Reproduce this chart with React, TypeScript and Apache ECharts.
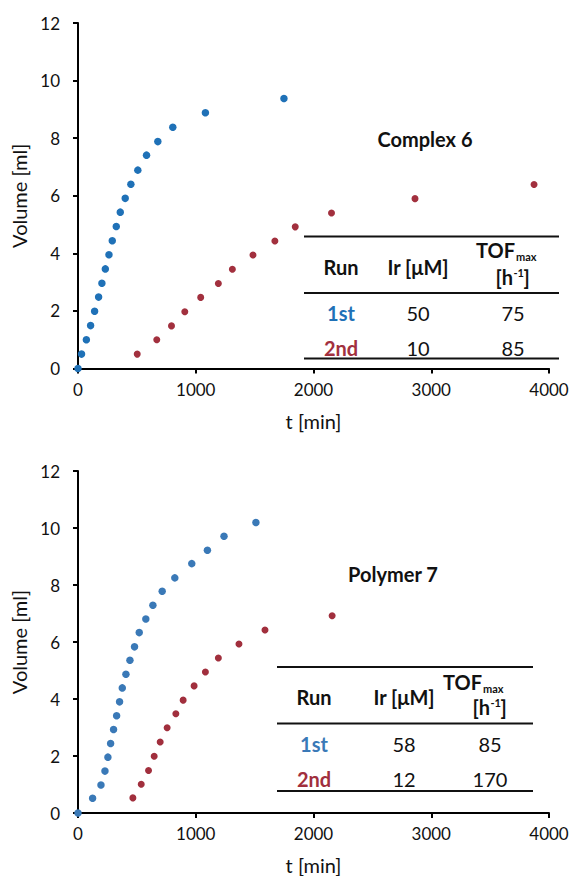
import React, { useEffect, useRef } from "react";
import * as echarts from "echarts";

// ---- Data ----
const complexRun1T = [0, 30, 71, 107, 141, 175, 203, 232, 263, 291, 325, 359, 401, 449, 508, 582, 678, 805, 1082, 1749];
const complexRun1V = [0, 0.5, 1.0, 1.49, 1.99, 2.48, 2.96, 3.46, 3.95, 4.44, 4.93, 5.43, 5.91, 6.4, 6.89, 7.41, 7.88, 8.38, 8.88, 9.375];
const complexRun2T = [503, 669, 794, 907, 1042, 1192, 1311, 1486, 1672, 1845, 2153, 2862, 3873];
const complexRun2V = [0.5, 1.0, 1.48, 1.97, 2.47, 2.95, 3.45, 3.94, 4.43, 4.92, 5.4, 5.9, 6.39];

const polymerRun1T = [0, 124, 195, 229, 254, 277, 302, 328, 353, 376, 407, 441, 480, 520, 576, 636, 715, 822, 966, 1099, 1240, 1511];
const polymerRun1V = [0, 0.52, 0.98, 1.47, 1.96, 2.44, 2.93, 3.41, 3.9, 4.39, 4.87, 5.36, 5.83, 6.33, 6.81, 7.29, 7.78, 8.25, 8.75, 9.22, 9.71, 10.19];
const polymerRun2T = [466, 537, 599, 647, 698, 757, 831, 893, 986, 1082, 1192, 1367, 1588, 2158];
const polymerRun2V = [0.53, 1.01, 1.49, 1.99, 2.49, 2.99, 3.48, 3.96, 4.46, 4.95, 5.44, 5.93, 6.42, 6.92];

const chartTitles = ["Complex 6", "Polymer 7"];
const tableHeaders = ["Run", "Ir [μM]"];
const complexTable = [
  ["1st", "50", "75"],
  ["2nd", "10", "85"],
];
const polymerTable = [
  ["1st", "58", "85"],
  ["2nd", "12", "170"],
];
const xAxisName = "t [min]";
const yAxisName = "Volume [ml]";

// ---- Styles ----
const FONT = "Lato";
const BLUE1 = "#1f71b7";
const RED1 = "#a2303e";
const BLUE2 = "#3a79b7";
const RED2 = "#a12f3d";
const INK = "#111";

const zip = (t: number[], v: number[]) => t.map((x, i) => [x, v[i]]);

type TableLayout = {
  x0: number;
  x1: number;
  lines: number[];
  cols: number[];
  tofSplit: number; // x where "TOF" ends and "max" starts
  hSplit: number; // x where "[h" ends and "-1" starts
  headerY: number;
  tofY: number;
  hY: number;
  rowY: number[];
};

function txt(x: number, y: number, text: string, opts: any = {}) {
  return {
    type: "text",
    x,
    y,
    style: {
      text,
      fontFamily: FONT,
      fontSize: 20,
      fontWeight: "normal",
      fill: INK,
      align: "center",
      verticalAlign: "middle",
      ...opts,
    },
  };
}

function tableGraphics(L: TableLayout, rows: string[][], colors: string[]) {
  const els: any[] = [];
  L.lines.forEach((y) => {
    els.push({
      type: "line",
      shape: { x1: L.x0, y1: y, x2: L.x1, y2: y },
      style: { stroke: INK, lineWidth: 2 },
    });
  });
  tableHeaders.forEach((h, i) => {
    els.push(txt(L.cols[i], L.headerY, h, { fontWeight: "bold" }));
  });
  // TOF with subscript "max"
  els.push(txt(L.tofSplit, L.tofY, "TOF", { fontWeight: "bold", align: "right" }));
  els.push(txt(L.tofSplit + 1, L.tofY + 6, "max", { fontWeight: "bold", fontSize: 11, align: "left" }));
  // [h^-1]
  els.push(txt(L.hSplit, L.hY, "[h", { fontWeight: "bold", align: "right" }));
  els.push(txt(L.hSplit + 0.5, L.hY - 5, "-1", { fontWeight: "bold", fontSize: 11, align: "left" }));
  els.push(txt(L.hSplit + 10.5, L.hY, "]", { fontWeight: "bold", align: "left" }));
  rows.forEach((row, r) => {
    row.forEach((cell, c) => {
      els.push(
        txt(L.cols[c], L.rowY[r], cell, {
          fontWeight: c === 0 ? "bold" : "normal",
          fill: c === 0 ? colors[r] : INK,
        })
      );
    });
  });
  return els;
}

function makeAxes(gridIndex: number) {
  const axisLine = { show: true, onZero: false, lineStyle: { color: "#000", width: 2 } };
  const axisTick = { show: true, inside: false, length: 5, lineStyle: { color: "#000", width: 2 } };
  const label = { fontFamily: FONT, fontSize: 17, color: INK, formatter: (v: number) => String(v) };
  return {
    x: {
      type: "value",
      gridIndex,
      min: 0,
      max: 4000,
      interval: 1000,
      axisLine,
      axisTick,
      splitLine: { show: false },
      axisLabel: { ...label, margin: 12 },
      name: xAxisName,
      nameLocation: "middle",
      nameGap: 42,
      nameTextStyle: { fontFamily: FONT, fontSize: 20, color: INK },
    },
    y: {
      type: "value",
      gridIndex,
      min: 0,
      max: 12,
      interval: 2,
      axisLine,
      axisTick,
      splitLine: { show: false },
      axisLabel: { ...label, margin: 18 },
      name: yAxisName,
      nameLocation: "middle",
      nameGap: 48,
      nameTextStyle: { fontFamily: FONT, fontSize: 20, color: INK },
    },
  };
}

export default function App() {
  const ref = useRef<HTMLDivElement>(null);
  useEffect(() => {
    if (!ref.current) return;
    const chart = echarts.init(ref.current, undefined, { renderer: "svg" });
    const a0 = makeAxes(0);
    const a1 = makeAxes(1);
    const graphic: any[] = [
      txt(425, 139, chartTitles[0], { fontWeight: "bold" }),
      txt(393, 574, chartTitles[1], { fontWeight: "bold" }),
      ...tableGraphics(
        {
          x0: 304,
          x1: 559,
          lines: [236.5, 293, 358.5],
          cols: [341, 418, 513],
          tofSplit: 515,
          hSplit: 513,
          headerY: 267,
          tofY: 250,
          hY: 277,
          rowY: [313, 348],
        },
        complexTable,
        [BLUE1, RED1]
      ),
      ...tableGraphics(
        {
          x0: 277,
          x1: 533,
          lines: [667, 723.5, 791],
          cols: [314, 404, 490],
          tofSplit: 482,
          hSplit: 490,
          headerY: 697,
          tofY: 682,
          hY: 707,
          rowY: [744, 778.5],
        },
        polymerTable,
        [BLUE2, RED2]
      ),
    ];
    chart.setOption({
      animation: false,
      backgroundColor: "#fff",
      grid: [
        { left: 78, top: 23, width: 471, height: 345.5 },
        { left: 78, top: 471, width: 471, height: 346 },
      ],
      xAxis: [a0.x, a1.x],
      yAxis: [a0.y, a1.y],
      series: [
        { type: "scatter", xAxisIndex: 0, yAxisIndex: 0, data: zip(complexRun1T, complexRun1V), symbolSize: 7.5, itemStyle: { color: BLUE1, opacity: 1 }, clip: false },
        { type: "scatter", xAxisIndex: 0, yAxisIndex: 0, data: zip(complexRun2T, complexRun2V), symbolSize: 7, itemStyle: { color: RED1, opacity: 1 }, clip: false },
        { type: "scatter", xAxisIndex: 1, yAxisIndex: 1, data: zip(polymerRun1T, polymerRun1V), symbolSize: 7.5, itemStyle: { color: BLUE2, opacity: 1 }, clip: false },
        { type: "scatter", xAxisIndex: 1, yAxisIndex: 1, data: zip(polymerRun2T, polymerRun2V), symbolSize: 7, itemStyle: { color: RED2, opacity: 1 }, clip: false },
      ],
      graphic,
    });
    return () => chart.dispose();
  }, []);
  return (
    <div
      ref={ref}
      style={{ position: "absolute", left: 0, top: 0, width: 573, height: 876, background: "#fff" }}
    />
  );
}
